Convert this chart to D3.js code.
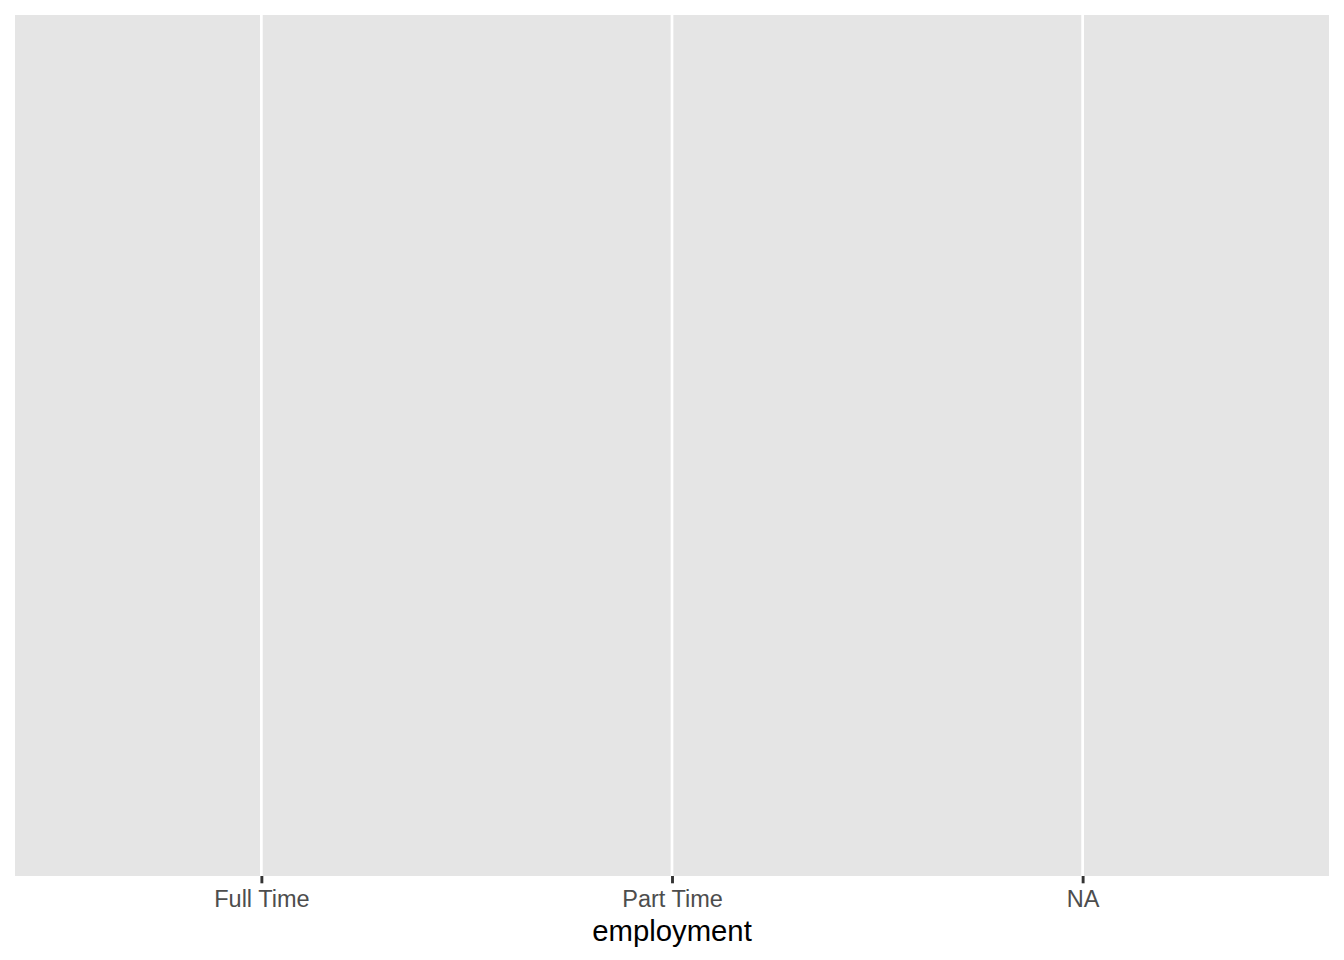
<!DOCTYPE html>
<html><head><meta charset="utf-8">
<script src="https://cdn.jsdelivr.net/npm/d3@7"></script>
<style>html,body{margin:0;padding:0;background:#fff}svg{display:block}</style>
</head><body>
<script>
const categories = ["Full Time", "Part Time", "NA"];
const xTitle = "employment";

const W = 1344, H = 960;
const panel = {left: 15, right: 1329, top: 15, bottom: 876};
const font = "'Liberation Sans', Arial, Helvetica, sans-serif";

const svg = d3.select("body").append("svg").attr("width", W).attr("height", H);
svg.append("rect").attr("width", W).attr("height", H).attr("fill", "#fff");

// ggplot discrete scale: 0.6 unit expansion on each side
const x = d3.scalePoint().domain(categories)
  .range([panel.left, panel.right]).padding(0.6);

svg.append("rect")
  .attr("x", panel.left).attr("y", panel.top)
  .attr("width", panel.right - panel.left).attr("height", panel.bottom - panel.top)
  .attr("fill", "#e5e5e5");

svg.selectAll("line.grid").data(categories).join("line")
  .attr("class", "grid")
  .attr("x1", d => x(d)).attr("x2", d => x(d))
  .attr("y1", panel.top).attr("y2", panel.bottom)
  .attr("stroke", "#fff").attr("stroke-width", 2.7);

const axis = d3.axisBottom(x).tickSize(7.3).tickPadding(5);
const g = svg.append("g").attr("transform", `translate(0,${panel.bottom})`).call(axis);
g.select(".domain").remove();
g.selectAll(".tick line").attr("stroke", "#333333").attr("stroke-width", 2.9);
g.selectAll(".tick text")
  .attr("fill", "#4d4d4d").attr("font-family", font).attr("font-size", 23.5)
  .attr("dy", null).attr("y", 30.5);

svg.append("text")
  .attr("x", (panel.left + panel.right) / 2).attr("y", 941)
  .attr("text-anchor", "middle").attr("font-family", font).attr("font-size", 29.3)
  .attr("fill", "#000").text(xTitle);
</script>
</body></html>
